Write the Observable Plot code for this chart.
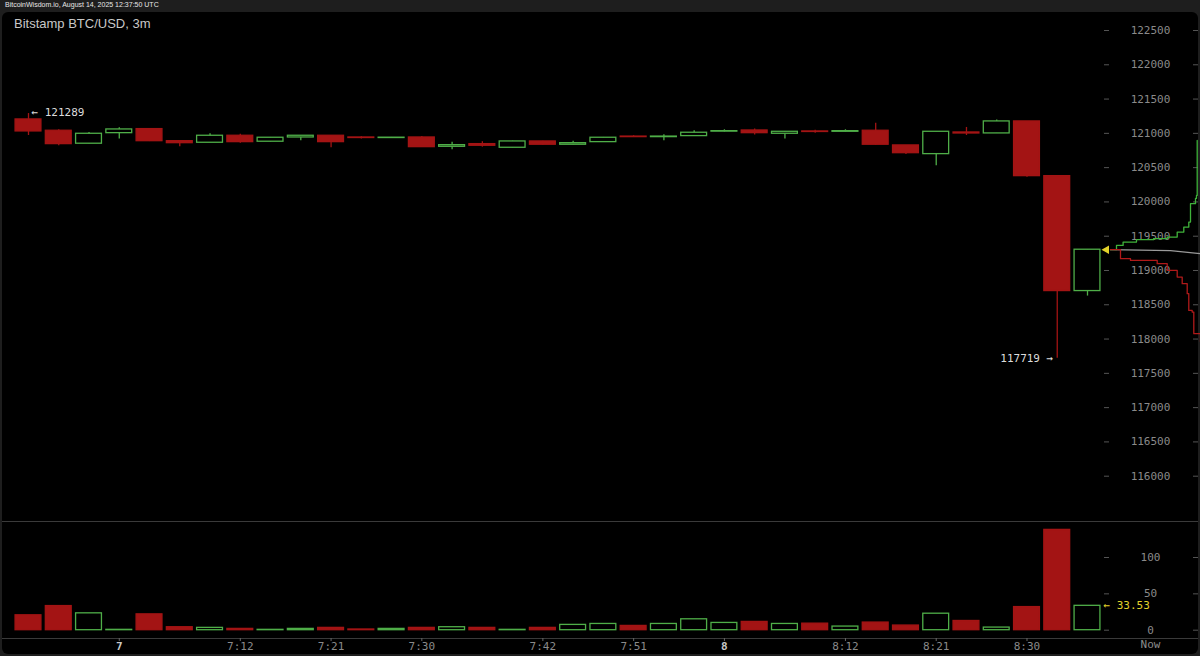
<!DOCTYPE html>
<html><head><meta charset="utf-8">
<script src="https://cdn.jsdelivr.net/npm/d3@7"></script>
<script src="https://cdn.jsdelivr.net/npm/@observablehq/plot@0.6"></script>
<style>
html,body{margin:0;padding:0;background:#1e1e1e;width:1200px;height:656px;overflow:hidden;position:relative}
#hdr{position:absolute;left:5px;top:1px;font:7px "Liberation Sans",Arial,sans-serif;color:#e6e6e6;white-space:nowrap}
#panel{position:absolute;left:2px;top:12px;width:1196px;height:642px;background:#000;border-radius:6px}
#title{position:absolute;left:14px;top:16px;font:13px "Liberation Sans",Arial,sans-serif;color:#c8c8c8;white-space:nowrap}
.layer{position:absolute;left:0}
.sep{position:absolute;left:2px;width:1196px;height:1px;background:#3a3a3a}
</style></head>
<body>
<div id="panel"></div>
<div id="hdr">BitcoinWisdom.io, August 14, 2025 12:37:50 UTC</div>
<div class="sep" style="top:521px"></div>
<div class="sep" style="top:638px"></div>
<div id="price" class="layer" style="top:12px"></div>
<div id="depth" class="layer" style="top:12px"></div>
<div id="vol" class="layer" style="top:521px"></div>
<div id="title">Bitstamp BTC/USD, 3m</div>
<script>
// ---- data ----
const candleTimes = ["6:51","6:54","6:57","7:00","7:03","7:06","7:09","7:12","7:15","7:18","7:21","7:24","7:27","7:30","7:33","7:36","7:39","7:42","7:45","7:48","7:51","7:54","7:57","8:00","8:03","8:06","8:09","8:12","8:15","8:18","8:21","8:24","8:27","8:30","8:33","8:36"];
const openP  = [121203,121038,120849,121003,121062,120886,120863,120965,120878,120940,120965,120940,120932,120940,120804,120843,120790,120882,120834,120872,120953,120945,120960,121025,121042,120994,121028,121023,121038,120824,120697,121013,120999,121174,120376,118700];
const highP  = [121289,121052,121013,121082,121062,120890,120994,120988,120940,120968,120970,120951,120940,120955,120872,120878,120886,120886,120886,120940,120965,120980,121038,121052,121062,121028,121047,121052,121148,120824,121023,121086,121193,121174,120376,119303];
const lowP   = [120969,120819,120849,120916,120880,120805,120863,120857,120875,120892,120790,120916,120930,120795,120762,120799,120790,120830,120830,120870,120940,120892,120958,121020,120975,120916,121000,121020,120830,120692,120527,120969,120999,120361,117719,118627];
const closeP = [121028,120843,120994,121057,120886,120857,120965,120872,120936,120965,120872,120932,120937,120799,120828,120819,120882,120834,120857,120936,120945,120953,121009,121032,121003,121023,121020,121032,120834,120711,121023,120998,121174,120376,118700,119303];
const volume = [20.5,33.2,23.2,0.5,21.8,4.1,3.2,1.8,0.5,1.8,3.2,1.0,1.8,3.2,4.1,3.2,0.5,3.2,7.3,8.6,5.9,8.6,15,10,11.4,8.6,9,5,10.5,6.4,22.7,12.7,3.6,31.8,138,33.53];

const priceTicks = [116000,116500,117000,117500,118000,118500,119000,119500,120000,120500,121000,121500,122000,122500];
const volTicks = [0,50,100];
const xTickTimes  = ["7:00","7:12","7:21","7:30","7:42","7:51","8:00","8:12","8:21","8:30"];
const xTickLabels = ["7","7:12","7:21","7:30","7:42","7:51","8","8:12","8:21","8:30"];
const hourLabels = ["7","8"];
const nowLabel = "Now";

const askPrice = [119303,119366,119414,119449,119464,119487,119560,119633,119706,119974,120051,120095,120897];
const askDepth = [0,6,12.6,26,43,56.7,66.7,73.3,78.3,80,85,86,86.7];
const bidPrice = [119303,119172,119147,119147,119099,119001,118904,118808,118662,118418,118394,118079,117960];
const bidDepth = [0,10,20,43,46.7,56.7,66.7,71.7,76.7,78.3,81.7,83.3,90];
const midPrice = [119303,119290,119245];
const midDepth = [0,60,90];
const currentPrice = 119303;
const currentVolume = 33.53;
const highLabel = 121289;
const lowLabel = 117719;

// ---- build ----
const toMin = s => { const [h,m] = s.split(":").map(Number); return h*60+m; };
const GREEN = "#4fae48", RED = "#a31414", AXIS = "#8a8a8a";
const MONO = "'DejaVu Sans Mono', monospace";
const half = 1.5; // half of 3-minute period
const candles = candleTimes.map((s,i) => ({t: toMin(s), open: openP[i], high: highP[i], low: lowP[i], close: closeP[i], vol: volume[i], up: closeP[i] >= openP[i]}));
const xTicks = xTickTimes.map(toMin);
const labelOf = new Map(xTicks.map((t,i)=>[t,xTickLabels[i]]));
const xScale = {domain: [toMin(candleTimes[0]), toMin(candleTimes[candleTimes.length-1])], range: [28, 1087]};
const style = {background: "transparent", color: AXIS, fontFamily: MONO, fontSize: "11px", overflow: "visible"};

const price = Plot.plot({
  width: 1200, height: 509, marginLeft: 28, marginRight: 97, marginTop: 18, marginBottom: 45,
  style,
  x: {...xScale, axis: null},
  y: {domain: [116000,122500], range: [463.7, 18]},
  color: {type: "identity"},
  marks: [
    Plot.ruleX(candles, {x: "t", y1: "low", y2: "high", stroke: d => d.up ? GREEN : RED, strokeWidth: 1.3}),
    Plot.rect(candles, {x1: d => d.t - half, x2: d => d.t + half, insetLeft: 2.2, insetRight: 2.2, y1: "open", y2: "close",
      fill: d => d.up ? "#000" : RED, stroke: d => d.up ? GREEN : RED, strokeWidth: 1.3}),
    Plot.axisY({anchor: "right", label: null, ticks: priceTicks, tickSize: 5, tickPadding: 42, textAnchor: "middle", stroke: "#555", fill: AXIS, tickFormat: d => String(d)}),
    Plot.axisY({anchor: "right", label: null, ticks: priceTicks, tickSize: 5, dx: 89, stroke: "#555", tickFormat: () => ""}),
    Plot.text([candles[0]], {x: "t", y: () => highLabel, text: () => "← " + highLabel, dx: 3, dy: -1, textAnchor: "start", fill: "#dcdcdc", fontSize: 11}),
    Plot.text([candles[34]], {x: "t", y: () => lowLabel, text: () => lowLabel + " →", dx: -4, textAnchor: "end", fill: "#dcdcdc", fontSize: 11})
  ]
});
document.getElementById("price").appendChild(price);

const asks = askPrice.map((p,i)=>({p, d: askDepth[i]}));
const bids = bidPrice.map((p,i)=>({p, d: bidDepth[i]}));
const mids = midPrice.map((p,i)=>({p, d: midDepth[i]}));
const depth = Plot.plot({
  width: 1200, height: 509, marginLeft: 1110, marginRight: 0, marginTop: 18, marginBottom: 45,
  style,
  x: {domain: [0,90], range: [1110,1200], axis: null},
  y: {domain: [116000,122500], range: [463.7, 18], axis: null},
  marks: [
    Plot.line(mids, {x: "d", y: "p", stroke: "#9a9a9a", strokeWidth: 1.2}),
    Plot.line(asks, {x: "d", y: "p", stroke: "#3fb23a", strokeWidth: 1.3, curve: "step-after"}),
    Plot.line(bids, {x: "d", y: "p", stroke: "#b01a1a", strokeWidth: 1.3, curve: "step-after"}),
    Plot.dot([{d: askDepth[0], p: currentPrice}], {x: "d", y: "p", symbol: "triangle", rotate: -90, r: 3.2, fill: "#e2d22a", stroke: "none", dx: -4})
  ]
});
document.getElementById("depth").appendChild(depth);

const vol = Plot.plot({
  width: 1200, height: 133, marginLeft: 28, marginRight: 97, marginTop: 10, marginBottom: 16,
  style,
  x: {...xScale, ticks: xTicks, label: null},
  y: {domain: [0,100], range: [108.7, 36], label: null},
  color: {type: "identity"},
  marks: [
    Plot.rect(candles, {x1: d => d.t - half, x2: d => d.t + half, insetLeft: 2.2, insetRight: 2.2, y1: () => 0, y2: "vol",
      fill: d => d.up ? "#000" : RED, stroke: d => d.up ? GREEN : RED, strokeWidth: 1.3}),
    Plot.axisY({anchor: "right", label: null, ticks: volTicks, tickSize: 5, tickPadding: 42, textAnchor: "middle", stroke: "#555", fill: AXIS}),
    Plot.axisY({anchor: "right", label: null, ticks: volTicks, tickSize: 5, dx: 89, stroke: "#555", tickFormat: () => ""}),
    Plot.axisX({anchor: "bottom", label: null, ticks: xTicks.filter(t => !hourLabels.includes(labelOf.get(t))), tickSize: 3, tickPadding: 1, stroke: "#666", fill: AXIS, tickFormat: t => labelOf.get(t)}),
    Plot.axisX({anchor: "bottom", label: null, ticks: xTicks.filter(t => hourLabels.includes(labelOf.get(t))), tickSize: 3, tickPadding: 1, stroke: "#666", fill: "#c8c8c8", fontWeight: "bold", tickFormat: t => labelOf.get(t)}),
    Plot.text([nowLabel], {frameAnchor: "bottom-right", text: d => d, dx: 47, dy: 9, textAnchor: "middle", fill: AXIS, fontSize: 11}),
    Plot.text([candles[candles.length-1]], {x: "t", y: () => currentVolume, text: () => "← " + currentVolume, dx: 16, textAnchor: "start", fill: "#e2d22a", fontSize: 11})
  ]
});
document.getElementById("vol").appendChild(vol);
</script>
</body></html>
